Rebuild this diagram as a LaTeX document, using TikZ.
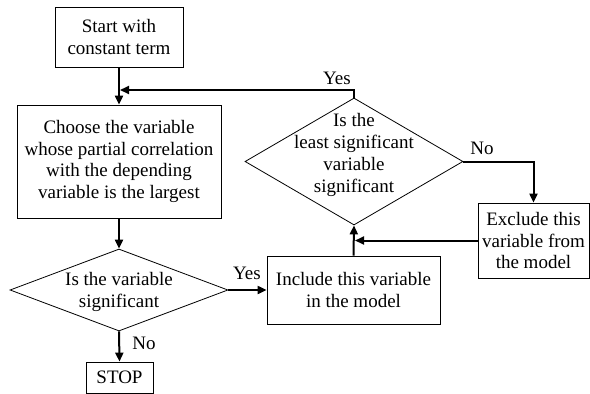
\documentclass[tikz,border=0pt]{standalone}
\usepackage{fontspec}
\setmainfont{Liberation Serif}
\usetikzlibrary{shapes.geometric,arrows.meta}
\begin{document}
\begin{tikzpicture}[x=1pt,y=-1pt,
  every node/.style={font=\fontsize{19}{21.8}\selectfont},
  box/.style={draw,line width=0.8pt,inner sep=1pt,align=center},
  dec/.style={draw,diamond,line width=0.8pt,inner sep=0pt},
  txt/.style={align=center,inner sep=0pt},
  arr/.style={line width=2pt,-{Triangle[length=9pt,width=8pt]}},
  lab/.style={inner sep=0pt}]
\useasboundingbox (0,0) rectangle (590,394);
\node[box,minimum width=128pt,minimum height=60pt] (start) at (119,37) {Start with\\constant term};
\node[box,minimum width=204pt,minimum height=113pt] (choose) at (119,161.5) {Choose the variable\\whose partial correlation\\with the depending\\variable is the largest};
\node[dec,minimum width=218pt,minimum height=82pt] (d1) at (119,290) {};
\node[txt] (t1) at (119,292) {Is the variable\\significant};
\node[box,minimum width=67pt,minimum height=31pt] (stop) at (119.5,377.5) {STOP};
\node[box,minimum width=173pt,minimum height=68pt] (inc) at (353.5,290) {Include this variable\\in the model};
\node[dec,minimum width=218pt,minimum height=127pt] (d2) at (354,161.5) {};
\node[txt] (t2) at (354,155) {Is the\\least significant\\variable\\significant};
\node[box,minimum width=111pt,minimum height=75pt] (ex) at (533.5,240.5) {Exclude this\\variable from\\the model};
\coordinate (j1) at (120,90);
\coordinate (j2) at (355,241);
\draw[arr] (start.south) -- (choose.north);
\draw[arr] (choose.south) -- (d1.north);
\draw[arr] (d1.south) -- (stop.north);
\draw[arr] (d1.east) -- (inc.west);
\draw[arr] (inc.north) -- (d2.south);
\draw[arr] (d2.north) |- (j1);
\draw[arr] (d2.east) -| (ex.north);
\draw[arr] (ex.west) -- (ex.west -| j2);
\node[lab] (yes2) at (337,78) {Yes};
\node[lab] (no2) at (482,148) {No};
\node[lab] (yes1) at (247,273) {Yes};
\node[lab] (no1) at (144,343) {No};
\end{tikzpicture}
\end{document}
